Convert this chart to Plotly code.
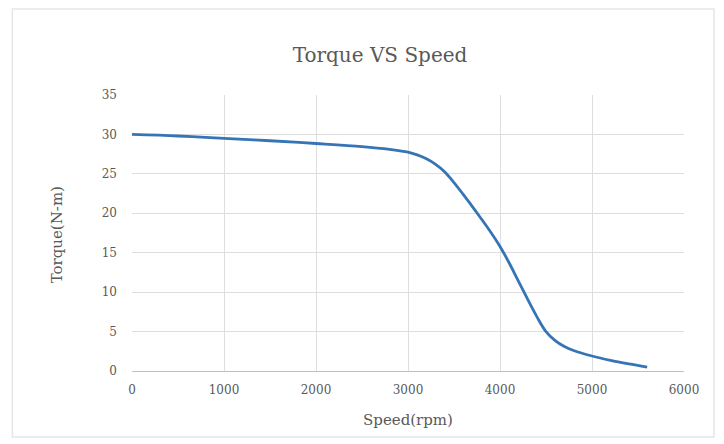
import plotly.graph_objects as go

speed = [0, 500, 1000, 1500, 2000, 2500, 2800, 3000, 3100, 3200, 3300, 3400, 3500, 3600, 3700,
         3800, 3900, 4000, 4100, 4200, 4300, 4400, 4500, 4600, 4700, 4800, 5000, 5200, 5400, 5600]
torque = [30.0, 29.8, 29.5, 29.2, 28.85, 28.45, 28.1, 27.75, 27.4, 26.9, 26.2, 25.25, 23.9, 22.4, 20.85,
          19.25, 17.6, 15.8, 13.7, 11.4, 9.1, 6.9, 5.0, 3.85, 3.1, 2.6, 1.9, 1.35, 0.9, 0.5]
x_ticks = [0, 1000, 2000, 3000, 4000, 5000, 6000]
y_ticks = [0, 5, 10, 15, 20, 25, 30, 35]

FONT = "DejaVu Serif"
GREY = "#595959"

fig = go.Figure()
fig.add_trace(go.Scatter(x=speed, y=torque, mode="lines",
                         line=dict(color="#3675b5", width=2.8, shape="spline", smoothing=1.0),
                         showlegend=False))

OFF = 8  # page body margin
W, H = 724 - OFF, 444 - OFF
L, T = 131.7 - OFF, 95 - OFF
R = W - (684 - OFF)
B = H - (371 - OFF)
pw, ph = W - L - R, H - T - B

def px(x):
    return (x - OFF - L) / pw

def py(y):
    return (H - B - (y - OFF)) / ph

fig.update_layout(
    width=W, height=H,
    margin=dict(l=L, r=R, t=T, b=B),
    paper_bgcolor="white", plot_bgcolor="white",
    font=dict(family=FONT, color=GREY),
    title=dict(text="Torque VS Speed", x=(380 - OFF) / W, xanchor="center",
               y=1 - (55 - OFF) / H, yanchor="middle",
               font=dict(family=FONT, size=20, color=GREY)),
    xaxis=dict(range=[0, 6000], tickvals=x_ticks, showgrid=True, gridcolor="#dedede",
               gridwidth=1, zeroline=False, showline=True, linecolor="#bfbfbf",
               tickfont=dict(family=FONT, size=12, color=GREY), ticks="",
               ticklabelstandoff=8, fixedrange=True),
    yaxis=dict(range=[0, 35], tickvals=y_ticks, showgrid=True, gridcolor="#dedede",
               gridwidth=1, zeroline=False, showline=False,
               tickfont=dict(family=FONT, size=12, color=GREY), ticks="",
               ticklabelstandoff=14),
    annotations=[
        dict(text="Speed(rpm)", xref="paper", yref="paper", x=px(408), y=py(420),
             xanchor="center", yanchor="middle", showarrow=False,
             font=dict(family=FONT, size=15, color=GREY)),
        dict(text="Torque(N-m)", xref="paper", yref="paper", x=px(57), y=py(235),
             xanchor="center", yanchor="middle", showarrow=False, textangle=-90,
             font=dict(family=FONT, size=15, color=GREY)),
    ],
    shapes=[
        dict(type="rect", xref="paper", yref="paper", x0=px(12), x1=px(714),
             y0=py(437), y1=py(9), line=dict(color="#e6e6e6", width=1.5), layer="below"),
    ],
)

fig.write_html("out.html")
